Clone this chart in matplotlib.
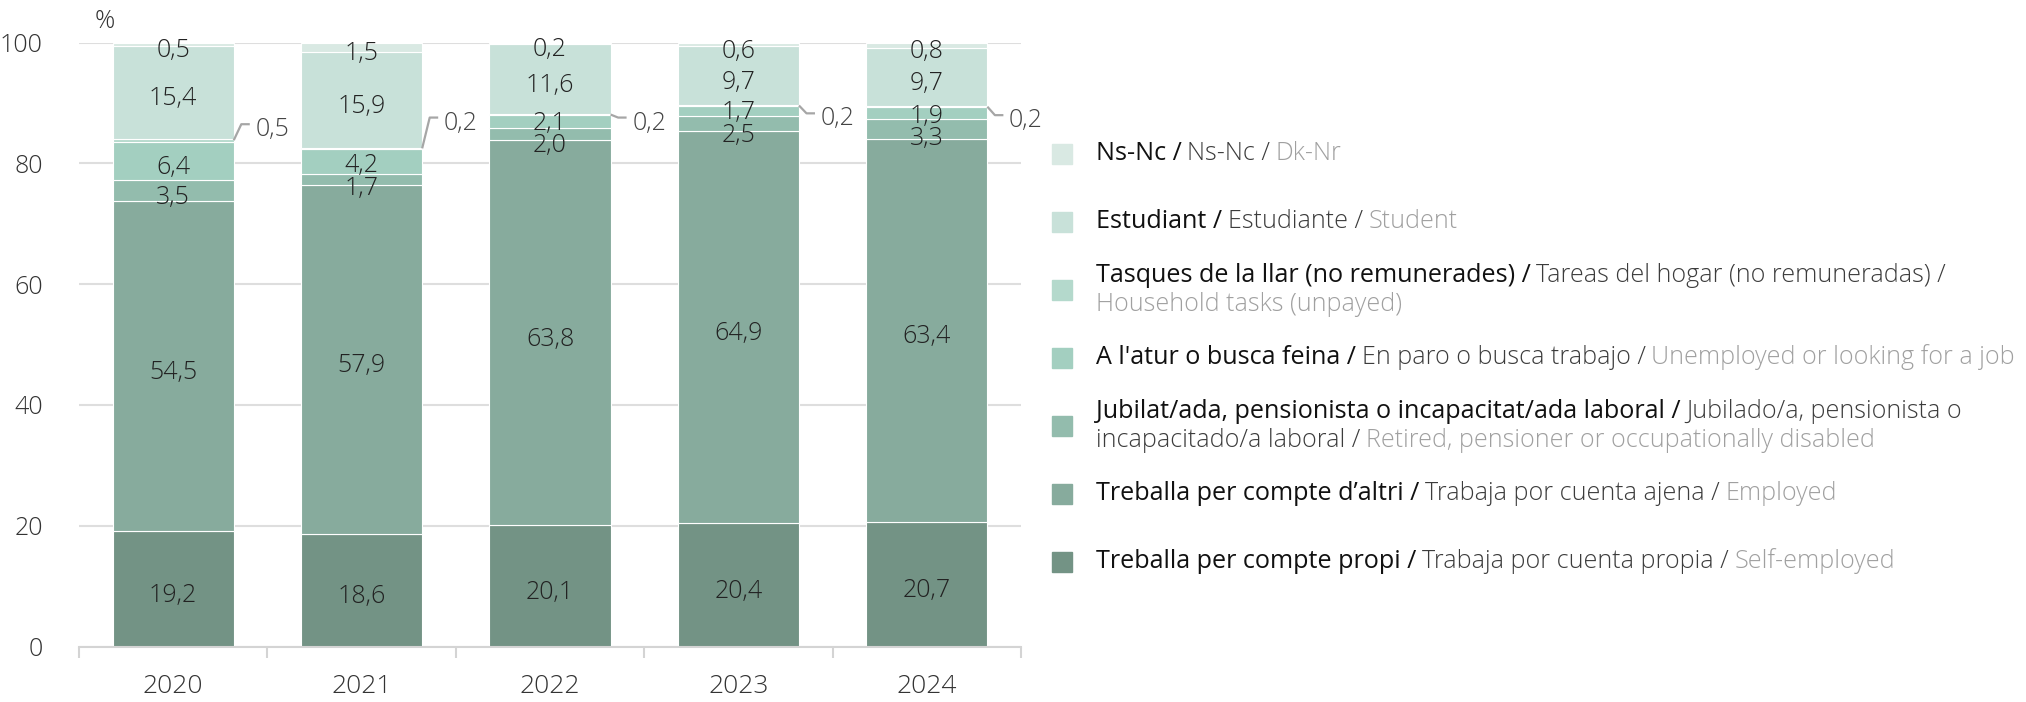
import numpy as np
import matplotlib
matplotlib.use("Agg")
import matplotlib.pyplot as plt

plt.rcParams["font.family"] = ["Open Sans", "DejaVu Sans"]

# data, % of respondents by occupation
years = ["2020", "2021", "2022", "2023", "2024"]
self_employed = [19.2, 18.6, 20.1, 20.4, 20.7]
employed = [54.5, 57.9, 63.8, 64.9, 63.4]
retired = [3.5, 1.7, 2.0, 2.5, 3.3]
unemployed = [6.4, 4.2, 2.1, 1.7, 1.9]
household = [0.5, 0.2, 0.2, 0.2, 0.2]
student = [15.4, 15.9, 11.6, 9.7, 9.7]
no_answer = [0.5, 1.5, 0.2, 0.6, 0.8]

series = [self_employed, employed, retired, unemployed, household, student, no_answer]
colors = ["#739385", "#87ab9d", "#93bcad", "#a3cfc0", "#b4d9cc", "#c8e1d9", "#d9e9e3"]

# legend text, top to bottom: (catalan, spanish, english); "\n" = line break
legend_ca = ["Ns-Nc /", "Estudiant /", "Tasques de la llar (no remunerades) /",
             "A l'atur o busca feina /",
             "Jubilat/ada, pensionista o incapacitat/ada laboral /",
             "Treballa per compte d\u2019altri /", "Treballa per compte propi /"]
legend_es = ["Ns-Nc /", "Estudiante /", "Tareas del hogar (no remuneradas) /\n",
             "En paro o busca trabajo /", "Jubilado/a, pensionista o\nincapacitado/a laboral /",
             "Trabaja por cuenta ajena /", "Trabaja por cuenta propia /"]
legend_en = ["Dk-Nr", "Student", "Household tasks (unpayed)",
             "Unemployed or looking for a job", "Retired, pensioner or occupationally disabled",
             "Employed", "Self-employed"]

# layout for the small "household" call-outs (y of the leader line)
callout_y = [86.5, 87.6, 87.6, 88.3, 88.0]

W, H = 2026, 702
fig = plt.figure(figsize=(W / 100, H / 100), dpi=100)
ax = fig.add_axes([79 / W, 1 - 646.5 / H, (1021 - 79) / W, (646.5 - 42.7) / H])

x = np.arange(len(years))
bw = 0.643
bottom = np.zeros(len(years))
for vals, c in zip(series, colors):
    ax.bar(x, vals, bw, bottom=bottom, color=c, edgecolor="white", linewidth=0.8, zorder=2)
    bottom += np.array(vals)

ax.set_xlim(-0.5, len(years) - 0.5)
ax.set_ylim(0, 100)
ax.set_yticks(range(0, 101, 20))
ax.grid(axis="y", color="#dedede", linewidth=1.5, zorder=0)
ax.set_axisbelow(True)
for s in ["left", "right", "top"]:
    ax.spines[s].set_visible(False)
ax.spines["bottom"].set_color("#d4d4d4")
ax.spines["bottom"].set_linewidth(1.5)
ax.tick_params(axis="y", length=0, pad=26, labelsize=18, labelcolor="#333333")
ax.set_xticks(x)
ax.set_xticklabels(years)
ax.tick_params(axis="x", which="major", length=0, pad=20, labelsize=19, labelcolor="#333333")
ax.set_xticks(np.arange(-0.5, len(years)), minor=True)
ax.tick_params(axis="x", which="minor", length=8, width=1.5, color="#d4d4d4")
for lab in ax.get_xticklabels() + ax.get_yticklabels():
    lab.set_fontweight("light")
ax.text(95 / W, 1 - 21.7 / H, "%", transform=fig.transFigure, fontsize=18,
        color="#333333", fontweight="light", ha="left", va="center")


def spread(centers, gap):
    pos = list(centers)
    for _ in range(100):
        order = sorted(range(len(pos)), key=lambda k: pos[k])
        moved = False
        for a, b in zip(order[:-1], order[1:]):
            d = pos[b] - pos[a]
            if d < gap - 1e-6:
                sh = (gap - d) / 2
                pos[a] -= sh
                pos[b] += sh
                moved = True
        if not moved:
            break
    return pos


fmt = lambda v: f"{v:.1f}".replace(".", ",")
for i in range(len(years)):
    cum = 0
    centers, texts = [], []
    for k, vals in enumerate(series):
        v = vals[i]
        if k != 4:
            centers.append(cum + v / 2)
            texts.append(fmt(v))
        else:
            hh_c = cum + v / 2
        cum += v
    for t, yp in zip(texts, spread(centers, 3.7)):
        ax.annotate(t, (i, yp), xytext=(0, -13), textcoords="offset pixels",
                    ha="center", va="baseline", fontsize=18, fontweight="light",
                    color="#222222", zorder=3)
    # household call-out
    edge = i + bw / 2
    ly = callout_y[i]
    ax.plot([edge, edge + 0.04, edge + 0.085], [hh_c, ly, ly], color="#a6a6a6",
            linewidth=1.6, solid_capstyle="butt", clip_on=False, zorder=3)
    ax.annotate(fmt(household[i]), (edge + 0.115, ly), xytext=(0, -12),
                textcoords="offset pixels", ha="left", va="baseline", fontsize=18,
                fontweight="light", color="#444444", annotation_clip=False)

# legend (multi-colour text)
styles = [("normal", "#111111"), ("light", "#3c3c3c"), ("light", "#a0a0a0")]
sq_y = [154, 222, 290, 358, 426, 494, 562]
line_h = 28.5
lsize = 18.1


def rich_line(x0, y0, pieces):
    prev = None
    for txt, (wt, col) in pieces:
        if prev is None:
            prev = fig.text(x0 / W, 1 - y0 / H, txt, fontsize=lsize, fontweight=wt,
                            color=col, ha="left", va="center")
        else:
            prev = ax.annotate(txt, xy=(1, 0), xycoords=prev, xytext=(5.5, 0),
                               textcoords="offset pixels", ha="left", va="bottom",
                               fontsize=lsize, fontweight=wt, color=col,
                               annotation_clip=False)


for j in range(7):
    col = colors[6 - j]
    fig.patches.append(plt.Rectangle((1052 / W, 1 - (sq_y[j] + 10) / H), 20 / W, 20 / H,
                                     transform=fig.transFigure, color=col, figure=fig))
    lines = [[]]
    for txt, st in zip([legend_ca[j], legend_es[j], legend_en[j]], styles):
        parts = txt.split("\n")
        for n, p in enumerate(parts):
            if n > 0:
                lines.append([])
            if p:
                lines[-1].append((p, st))
    nl = len(lines)
    for n, pcs in enumerate(lines):
        yy = sq_y[j] + (n - (nl - 1) / 2) * line_h
        rich_line(1096, yy, pcs)

fig.savefig("out.png", dpi=100)
